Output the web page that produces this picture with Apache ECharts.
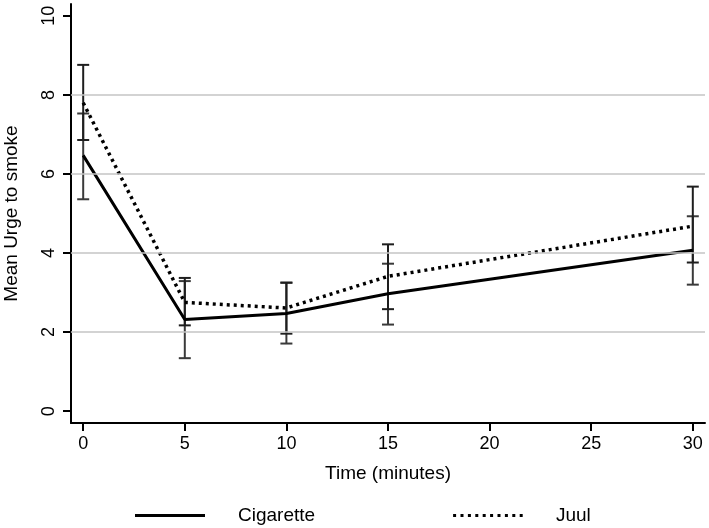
<!DOCTYPE html>
<html>
<head>
<meta charset="utf-8">
<script src="https://cdn.jsdelivr.net/npm/echarts@6/dist/echarts.min.js"></script>
<style>html,body{margin:0;padding:0;background:#fff}#c{width:709px;height:528px}</style>
</head>
<body>
<div id="c"></div>
<script>
var times = [0, 5, 10, 15, 30];
var xTicks = [0, 5, 10, 15, 20, 25, 30];
var yTicks = [0, 2, 4, 6, 8, 10];
var gridValues = [2, 4, 6, 8];
var seriesNames = ['Cigarette', 'Juul'];
var cigMean = [6.47, 2.32, 2.47, 2.97, 4.07];
var cigLow  = [5.36, 1.34, 1.71, 2.19, 3.20];
var cigHigh = [7.53, 3.29, 3.25, 3.73, 4.93];
var juulMean = [7.80, 2.75, 2.61, 3.41, 4.68];
var juulLow  = [6.86, 2.17, 1.96, 2.58, 3.76];
var juulHigh = [8.76, 3.37, 3.25, 4.22, 5.68];

function pairs(xs, ys){ return xs.map(function(x,i){ return [x, ys[i]]; }); }
function triples(xs, lo, hi){ return xs.map(function(x,i){ return [x, lo[i], hi[i]]; }); }

function errRender(color){
  return function(params, api){
    var x = api.value(0), lo = api.value(1), hi = api.value(2);
    var pLo = api.coord([x, lo]), pHi = api.coord([x, hi]);
    var w = 6;
    var st = {stroke: color, lineWidth: 2};
    return {type:'group', children:[
      {type:'line', shape:{x1:pLo[0], y1:pLo[1], x2:pHi[0], y2:pHi[1]}, style:st},
      {type:'line', shape:{x1:pLo[0]-w, y1:pLo[1], x2:pLo[0]+w, y2:pLo[1]}, style:st},
      {type:'line', shape:{x1:pHi[0]-w, y1:pHi[1], x2:pHi[0]+w, y2:pHi[1]}, style:st}
    ]};
  };
}

var solidIcon = 'path://M0,0H70V3H0Z';
var dotIcon = 'path://';
for (var i = 0; i < 10; i++) { var x0 = i * 7.4; dotIcon += 'M' + x0 + ',0h3v3h-3Z'; }

var font = 'Liberation Sans, Arial, Helvetica, sans-serif';
var chart = echarts.init(document.getElementById('c'), null, {renderer:'canvas'});
chart.setOption({
  animation: false,
  backgroundColor: '#fff',
  textStyle: {fontFamily: font, color: '#000'},
  grid: {left: 71, right: 4, top: 4, bottom: 105, containLabel: false, outerBoundsMode: 'none'},
  legend: {
    left: 130, top: 501,
    itemWidth: 72, itemHeight: 3, itemGap: 138,
    textStyle: {fontFamily: font, fontSize: 19, color: '#000', padding: [0,0,0,27]},
    data: [
      {name: seriesNames[0], icon: solidIcon},
      {name: seriesNames[1], icon: dotIcon}
    ]
  },
  xAxis: {
    type: 'value', min: -0.6, max: 30.6,
    name: 'Time (minutes)', nameLocation: 'middle', nameGap: 41,
    nameTextStyle: {fontFamily: font, fontSize: 19, color: '#000'},
    axisLine: {show: true, onZero: false, lineStyle: {color: '#000', width: 2}},
    axisTick: {show: true, length: 8, lineStyle: {color: '#000', width: 2}, customValues: xTicks},
    axisLabel: {fontFamily: font, fontSize: 18, color: '#000', margin: 12, customValues: xTicks},
    splitLine: {show: false}
  },
  yAxis: {
    type: 'value', min: -0.3, max: 10.3,
    name: 'Mean Urge to smoke', nameLocation: 'middle', nameGap: 50,
    nameTextStyle: {fontFamily: font, fontSize: 19, color: '#000'},
    axisLine: {show: true, onZero: false, lineStyle: {color: '#000', width: 2}},
    axisTick: {show: true, length: 8, lineStyle: {color: '#000', width: 2}, customValues: yTicks},
    axisLabel: {fontFamily: font, fontSize: 18, color: '#000', margin: 13, rotate: 90, customValues: yTicks},
    splitLine: {show: false}
  },
  series: [
    {
      name: 'grid', type: 'line', data: [], silent: true,
      markLine: {
        silent: true, symbol: 'none', label: {show: false},
        lineStyle: {color: '#c4c4c4', width: 1.5, type: 'solid'},
        data: gridValues.map(function(v){ return {yAxis: v}; })
      }
    },
    {
      name: 'cigErr', type: 'custom', renderItem: errRender('#3a3a3a'),
      data: triples(times, cigLow, cigHigh), z: 3, silent: true
    },
    {
      name: 'juulErr', type: 'custom', renderItem: errRender('#1e1e1e'),
      data: triples(times, juulLow, juulHigh), z: 3, silent: true
    },
    {
      name: seriesNames[0], type: 'line', data: pairs(times, cigMean),
      symbol: 'none', showSymbol: false, z: 4,
      lineStyle: {color: '#000', width: 3, type: 'solid'},
      itemStyle: {color: '#000'}
    },
    {
      name: seriesNames[1], type: 'line', data: pairs(times, juulMean),
      symbol: 'none', showSymbol: false, z: 4,
      lineStyle: {color: '#000', width: 3.5, type: [3, 4]},
      itemStyle: {color: '#000'}
    }
  ]
});
</script>
</body>
</html>
